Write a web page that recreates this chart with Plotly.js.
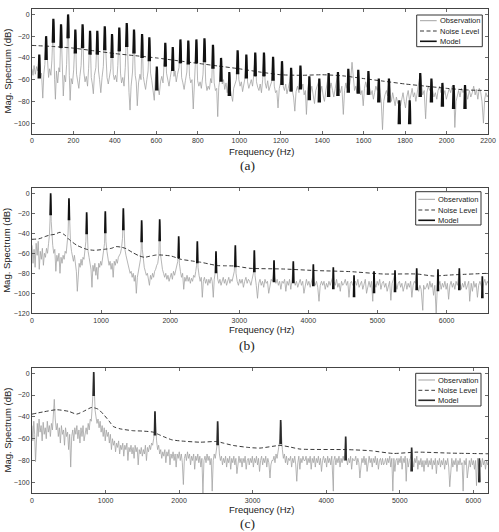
<!DOCTYPE html>
<html><head><meta charset="utf-8">
<script src="https://cdn.plot.ly/plotly-3.0.1.min.js"></script>
<style>html,body{margin:0;padding:0;background:#fff}#chart{width:499px;height:532px}</style>
</head><body><div id="chart"></div>
<script>
// ---------------- Panel (a) ----------------
const peakA_f = [35,68,103,140,174,209,244,280,315,351,386,421,457,492,531,566,602,643,679,716,754,793,832,873,912,952,992,1034,1077,1119,1163,1206,1250,1295,1338,1386,1431,1476,1526,1574,1623,1673,1722,1772,1822,1873,1927,1980,2034,2089];
const peakA_db = [-37,-20,-4,-9,0,-14,-9,-15,-15,-11,-18,-12,-8,-14,-18,-21,-48,-26,-30,-23,-24,-23,-22,-28,-40,-53,-33,-37,-35,-35,-39,-43,-49,-47,-57,-59,-54,-53,-50,-51,-52,-59,-59,-79,-79,-54,-59,-63,-65,-65];
const noiseA_f = [0,100,200,300,400,500,600,700,800,900,1000,1100,1200,1300,1400,1500,1600,1700,1800,1900,2000,2100,2200];
const noiseA_db = [-28.5,-29.5,-31,-33.5,-36,-38,-40,-42.5,-45,-47.5,-50,-53,-55.5,-56,-55.5,-56.5,-59,-61.5,-64,-66,-68,-69.5,-70];
const obsA = [
[0,-50],[5,-56],[10,-47],[16,-55],[22,-48],[28,-52],[35,-38],
[41,-58],[46,-54],[52,-77],[57,-55],[62,-46],[68,-21],
[75,-46],[80,-58],[85,-50],[91,-56],[96,-42],[103,-5],
[109,-60],[113,-78],[118,-52],[124,-63],[130,-49],[134,-53],[140,-10],
[146,-50],[151,-75],[156,-56],[162,-62],[167,-46],[174,-1],
[180,-56],[184,-79],[189,-59],[195,-64],[201,-51],[209,-15],
[215,-55],[220,-60],[226,-68],[231,-57],[237,-47],[244,-10],
[250,-53],[256,-62],[262,-57],[268,-66],[273,-50],[280,-16],
[286,-58],[291,-64],[296,-73],[301,-56],[308,-49],[315,-16],
[321,-52],[326,-60],[332,-72],[338,-58],[344,-48],[351,-12],
[357,-49],[362,-58],[368,-64],[374,-55],[380,-50],[386,-19],
[392,-55],[397,-60],[403,-56],[409,-62],[414,-47],[421,-13],
[427,-54],[432,-63],[438,-58],[444,-66],[450,-49],[457,-9],
[463,-58],[468,-72],[473,-88],[478,-66],[485,-53],[492,-15],
[498,-56],[503,-62],[508,-84],[514,-63],[521,-55],[526,-60],[531,-19],
[537,-57],[542,-63],[548,-69],[554,-60],[560,-52],[566,-22],
[572,-54],[578,-61],[584,-68],[590,-79],[596,-57],[602,-49],
[608,-67],[614,-74],[620,-62],[626,-57],[632,-63],[637,-50],[643,-27],
[649,-54],[655,-60],[661,-66],[667,-58],[673,-51],[679,-31],
[685,-57],[690,-52],[696,-62],[702,-55],[709,-49],[716,-24],
[722,-58],[728,-63],[734,-69],[740,-61],[747,-53],[754,-25],
[760,-57],[766,-63],[772,-60],[778,-87],[784,-62],[788,-56],[793,-24],
[799,-61],[805,-66],[811,-62],[817,-68],[825,-55],[832,-23],
[838,-62],[844,-70],[850,-66],[856,-69],[862,-59],[867,-63],[873,-29],
[879,-63],[885,-70],[891,-68],[896,-94],[901,-67],[906,-60],[912,-41],
[918,-64],[924,-60],[930,-69],[936,-63],[942,-72],[947,-62],[952,-54],
[958,-70],[963,-75],[968,-80],[973,-68],[980,-64],[986,-60],[992,-34],
[998,-60],[1004,-66],[1010,-62],[1016,-71],[1022,-65],[1028,-58],[1034,-38],
[1040,-62],[1046,-68],[1052,-63],[1058,-60],[1064,-66],[1070,-56],[1077,-36],
[1083,-62],[1089,-67],[1095,-70],[1101,-64],[1107,-72],[1113,-60],[1119,-36],
[1125,-63],[1131,-68],[1137,-61],[1143,-70],[1149,-66],[1156,-62],[1163,-40],
[1169,-66],[1175,-72],[1181,-70],[1187,-86],[1193,-68],[1199,-63],[1206,-44],
[1212,-66],[1218,-70],[1224,-64],[1230,-73],[1236,-68],[1243,-62],[1250,-50],
[1256,-70],[1262,-76],[1268,-89],[1274,-71],[1281,-66],[1288,-72],[1295,-48],
[1301,-68],[1307,-64],[1313,-74],[1319,-70],[1324,-92],[1330,-69],[1338,-58],
[1344,-72],[1350,-66],[1357,-74],[1363,-82],[1369,-70],[1377,-64],[1386,-60],
[1392,-72],[1398,-66],[1405,-75],[1411,-80],[1418,-70],[1424,-64],[1431,-55],
[1437,-68],[1443,-63],[1450,-70],[1456,-76],[1463,-68],[1469,-61],[1476,-54],
[1482,-68],[1488,-72],[1495,-66],[1502,-92],[1508,-70],[1514,-63],[1520,-68],[1526,-51],
[1532,-65],[1538,-58],[1544,-44],[1550,-60],[1556,-70],[1562,-66],[1568,-72],[1574,-52],
[1580,-66],[1586,-74],[1592,-70],[1598,-84],[1604,-68],[1610,-62],[1616,-67],[1623,-53],
[1629,-68],[1635,-74],[1641,-70],[1647,-78],[1653,-72],[1659,-66],[1666,-70],[1673,-60],
[1679,-72],[1685,-80],[1691,-106],[1697,-80],[1703,-74],[1710,-70],[1716,-75],[1722,-60],
[1728,-74],[1734,-80],[1740,-72],[1746,-78],[1752,-84],[1758,-76],[1765,-82],[1772,-80],
[1778,-84],[1784,-78],[1790,-72],[1796,-80],[1802,-86],[1808,-76],[1815,-70],[1822,-80],
[1828,-74],[1834,-68],[1840,-76],[1846,-72],[1852,-80],[1858,-70],[1865,-64],[1873,-55],
[1879,-68],[1885,-74],[1892,-70],[1899,-96],[1905,-72],[1912,-66],[1919,-70],[1927,-60],
[1933,-70],[1939,-76],[1946,-72],[1953,-78],[1959,-70],[1966,-66],[1973,-72],[1980,-64],
[1986,-74],[1992,-70],[1999,-78],[2006,-74],[2013,-68],[2020,-72],[2027,-66],[2034,-66],
[2040,-104],[2046,-80],[2052,-74],[2058,-70],[2065,-76],[2072,-68],[2080,-72],[2089,-66],
[2095,-72],[2102,-78],[2110,-70],[2117,-76],[2124,-72],[2131,-66],[2138,-74],[2144,-69],
[2151,-78],[2158,-68],[2165,-72],[2171,-80],[2178,-100],[2184,-78],[2190,-72],[2196,-76],[2200,-74]
];

// ---------------- Panel (b) ----------------
const peakB_f = [270,535,791,1061,1322,1587,1848,2123,2393,2663,2943,3218,3503,3782,4072,4361,4661,4950,5254,5568,5876,6185,6518];
const peakB_db = [0,-5,-19,-18,-15,-27,-26,-43,-48,-58,-52,-57,-67,-68,-71,-74,-82,-78,-77,-75,-76,-75,-83];
const noiseB_f = [0,100,200,260,330,405,480,545,650,791,900,1047,1150,1216,1300,1360,1450,1550,1627,1700,1800,1868,2013,2157,2300,2447,2550,2688,2800,2929,3155,3638,4120,4603,5085,5568,5809,6050,6600];
const noiseB_db = [-46,-45.5,-43,-41.7,-41,-39,-42,-46.7,-52,-56,-57,-56,-55,-53.3,-54,-55.3,-59,-62.5,-64,-63,-61.7,-61.7,-62.7,-66,-67.5,-69,-70.5,-72.3,-72.5,-72.7,-75,-75.7,-77.3,-78.3,-80.7,-80.7,-82.7,-81.7,-80];
const obsB = [
[0,-52],[15,-70],[30,-56],[45,-74],[60,-50],[75,-62],[90,-48],[105,-76],[120,-58],[135,-66],[150,-55],[165,-72],[180,-60],[195,-64],[210,-55],[225,-60],[240,-50],[252,-42],[262,-25],[270,-2],
[278,-28],[288,-45],[300,-52],[315,-60],[330,-56],[345,-78],[360,-62],[375,-68],[390,-60],[405,-80],[420,-64],[435,-70],[450,-62],[465,-66],[480,-58],[495,-60],[510,-50],[522,-40],[535,-7],
[545,-35],[558,-50],[572,-58],[586,-64],[600,-68],[614,-62],[628,-72],[642,-78],[656,-98],[668,-76],[682,-70],[696,-74],[710,-66],[724,-72],[738,-64],[752,-66],[766,-58],[780,-48],[791,-21],
[800,-48],[812,-58],[826,-64],[840,-70],[854,-76],[868,-94],[882,-72],[896,-78],[910,-70],[924,-82],[938,-74],[952,-86],[966,-70],[980,-74],[994,-68],[1008,-72],[1022,-64],[1036,-60],[1050,-50],[1061,-20],
[1070,-48],[1085,-58],[1100,-66],[1115,-72],[1130,-68],[1145,-76],[1160,-70],[1175,-84],[1190,-68],[1205,-72],[1220,-66],[1235,-70],[1250,-64],[1265,-62],[1280,-60],[1295,-55],[1310,-45],[1322,-17],
[1332,-44],[1345,-56],[1360,-62],[1375,-66],[1390,-72],[1405,-76],[1420,-80],[1435,-78],[1450,-84],[1465,-80],[1480,-88],[1495,-82],[1510,-100],[1525,-84],[1540,-78],[1555,-74],[1570,-66],[1580,-56],[1587,-29],
[1597,-56],[1610,-66],[1625,-74],[1640,-78],[1655,-82],[1670,-80],[1685,-88],[1700,-92],[1715,-82],[1730,-86],[1745,-80],[1760,-84],[1775,-78],[1790,-76],[1805,-72],[1820,-70],[1835,-62],[1848,-28],
[1858,-60],[1872,-70],[1888,-76],[1904,-80],[1920,-84],[1936,-80],[1952,-86],[1968,-82],[1984,-88],[2000,-84],[2016,-80],[2032,-86],[2048,-78],[2064,-82],[2080,-76],[2096,-74],[2110,-68],[2123,-45],
[2133,-70],[2148,-78],[2164,-84],[2180,-80],[2196,-96],[2212,-84],[2228,-88],[2244,-82],[2260,-88],[2276,-84],[2292,-90],[2308,-85],[2324,-88],[2340,-82],[2356,-84],[2370,-78],[2382,-72],[2393,-50],
[2403,-74],[2418,-82],[2434,-88],[2450,-84],[2465,-104],[2480,-88],[2496,-84],[2512,-90],[2528,-86],[2544,-92],[2560,-86],[2576,-90],[2592,-84],[2608,-88],[2624,-104],[2638,-86],[2650,-80],[2663,-60],
[2673,-78],[2688,-86],[2704,-90],[2720,-86],[2736,-92],[2752,-88],[2768,-84],[2784,-90],[2800,-86],[2816,-92],[2832,-88],[2848,-84],[2864,-90],[2880,-86],[2896,-88],[2912,-82],[2928,-78],[2943,-54],
[2953,-80],[2970,-88],[2988,-92],[3006,-86],[3024,-90],[3042,-86],[3060,-94],[3078,-88],[3096,-84],[3114,-90],[3132,-86],[3150,-88],[3168,-92],[3186,-86],[3204,-80],[3218,-58],
[3228,-82],[3246,-92],[3264,-105],[3282,-90],[3300,-86],[3318,-92],[3336,-88],[3354,-94],[3372,-86],[3390,-90],[3408,-88],[3426,-100],[3444,-90],[3462,-86],[3480,-88],[3492,-82],[3503,-68],
[3513,-84],[3530,-90],[3548,-86],[3566,-92],[3584,-88],[3602,-96],[3620,-88],[3638,-90],[3656,-86],[3674,-98],[3692,-88],[3710,-92],[3728,-86],[3746,-96],[3764,-86],[3782,-70],
[3792,-86],[3810,-92],[3828,-88],[3846,-94],[3864,-90],[3882,-86],[3900,-92],[3918,-88],[3936,-100],[3954,-90],[3972,-86],[3990,-92],[4008,-88],[4026,-94],[4044,-88],[4060,-84],[4072,-72],
[4082,-88],[4100,-92],[4118,-88],[4136,-94],[4154,-108],[4172,-92],[4190,-88],[4208,-92],[4226,-88],[4244,-96],[4262,-90],[4280,-94],[4298,-88],[4316,-92],[4334,-88],[4350,-84],[4361,-76],
[4371,-88],[4390,-92],[4408,-86],[4426,-94],[4444,-90],[4462,-98],[4480,-88],[4498,-92],[4516,-90],[4534,-86],[4552,-92],[4570,-88],[4588,-104],[4606,-90],[4624,-88],[4642,-92],[4661,-90],
[4680,-88],[4698,-92],[4716,-86],[4734,-94],[4752,-90],[4770,-88],[4788,-96],[4806,-90],[4824,-86],[4842,-100],[4860,-92],[4878,-88],[4896,-94],[4914,-88],[4932,-108],[4950,-80],
[4960,-90],[4978,-94],[4996,-88],[5014,-92],[5032,-86],[5050,-96],[5068,-90],[5086,-88],[5104,-94],[5122,-90],[5140,-98],[5158,-92],[5176,-88],[5194,-107],[5212,-90],[5232,-86],[5254,-80],
[5264,-90],[5282,-96],[5300,-90],[5318,-88],[5336,-94],[5354,-90],[5372,-98],[5390,-92],[5408,-88],[5426,-96],[5444,-90],[5462,-94],[5480,-88],[5498,-104],[5516,-92],[5534,-88],[5550,-90],[5568,-78],
[5578,-92],[5596,-98],[5614,-92],[5632,-96],[5656,-117],[5668,-92],[5686,-96],[5704,-94],[5722,-90],[5740,-96],[5758,-88],[5776,-94],[5794,-90],[5812,-102],[5830,-92],[5850,-120],[5862,-90],[5876,-80],
[5886,-92],[5904,-88],[5922,-96],[5940,-90],[5958,-94],[5976,-88],[5994,-96],[6012,-90],[6030,-106],[6048,-92],[6066,-88],[6084,-94],[6102,-90],[6120,-96],[6138,-88],[6156,-92],[6170,-86],[6185,-78],
[6195,-90],[6213,-96],[6231,-90],[6249,-94],[6267,-88],[6285,-96],[6303,-92],[6321,-88],[6335,-108],[6357,-90],[6375,-98],[6393,-88],[6411,-94],[6429,-90],[6447,-104],[6465,-92],[6483,-88],[6501,-94],[6518,-96],[6536,-90],[6554,-86],[6572,-92],[6590,-88],[6600,-90]
];

// ---------------- Panel (c) ----------------
const peakC_f = [839,1672,2524,3381,4265,5162,6082];
const peakC_db = [1,-35,-44,-43,-58,-68,-78];
const noiseC_f = [0,150,335,500,607,700,811,900,969,1050,1105,1200,1377,1500,1649,1700,1785,1900,2012,2284,2510,2600,2737,2941,3100,3372,3500,3644,4279,4600,4914,5232,5685,6200];
const noiseC_db = [-37.5,-35.5,-33.5,-35,-37.5,-35,-31.4,-33,-37.5,-44,-48.8,-51,-52.7,-53,-54,-55.5,-58,-61,-62,-63.2,-62.6,-64,-66.2,-68,-68.6,-66.2,-67.5,-69.5,-70,-71,-73.5,-72.3,-73.2,-73.8];
const obsC = [
[0,-48],[12,-62],[24,-44],[36,-56],[48,-81],[60,-52],[72,-46],[84,-58],[96,-42],[110,-54],[124,-48],[138,-62],[152,-45],[166,-56],[180,-50],[194,-60],[208,-44],[222,-54],[236,-48],[250,-58],[264,-46],[278,-52],[290,-40],[303,-24],
[316,-42],[330,-52],[344,-46],[358,-58],[372,-50],[386,-64],[400,-48],[414,-56],[428,-52],[442,-66],[456,-50],[470,-58],[484,-54],[498,-70],[512,-56],[526,-86],[540,-58],[554,-52],[568,-62],[582,-50],[596,-56],[610,-48],[624,-60],[638,-52],[652,-64],[666,-50],[680,-58],[694,-48],[708,-62],[722,-54],[736,-50],[750,-56],[764,-46],[778,-52],[792,-42],[806,-44],[820,-30],[830,-18],[839,0],
[848,-22],[858,-34],[870,-40],[884,-46],[898,-42],[912,-50],[926,-44],[940,-54],[954,-48],[968,-58],[982,-50],[996,-62],[1010,-52],[1024,-58],[1038,-54],[1052,-64],[1066,-56],[1080,-70],[1094,-60],[1108,-66],[1122,-62],[1136,-72],[1150,-64],[1164,-68],[1178,-62],[1192,-74],[1206,-66],[1220,-70],[1234,-64],[1248,-76],[1262,-66],[1276,-70],[1290,-64],[1304,-80],[1318,-68],[1332,-72],[1346,-66],[1360,-74],[1374,-68],[1388,-78],[1402,-66],[1416,-72],[1430,-68],[1444,-84],[1458,-70],[1472,-74],[1486,-68],[1500,-76],[1514,-70],[1528,-74],[1542,-66],[1556,-80],[1570,-68],[1584,-72],[1598,-66],[1612,-70],[1626,-64],[1640,-66],[1654,-60],[1664,-54],[1672,-36],
[1682,-56],[1694,-62],[1708,-70],[1722,-66],[1736,-74],[1750,-70],[1764,-78],[1778,-72],[1792,-76],[1806,-70],[1820,-82],[1834,-72],[1848,-76],[1862,-70],[1876,-84],[1890,-74],[1904,-78],[1918,-72],[1932,-80],[1946,-74],[1960,-86],[1974,-74],[1988,-78],[2002,-72],[2016,-80],[2030,-74],[2044,-82],[2058,-102],[2072,-78],[2086,-74],[2100,-80],[2114,-72],[2128,-78],[2142,-74],[2156,-84],[2170,-76],[2184,-80],[2198,-74],[2212,-88],[2226,-76],[2240,-80],[2254,-74],[2268,-82],[2282,-76],[2296,-86],[2310,-78],[2324,-110],[2338,-80],[2352,-76],[2366,-82],[2380,-74],[2394,-80],[2408,-76],[2422,-84],[2436,-78],[2450,-108],[2464,-80],[2478,-74],[2492,-78],[2506,-72],[2516,-66],[2524,-46],
[2534,-66],[2548,-74],[2562,-80],[2576,-76],[2590,-84],[2604,-78],[2618,-82],[2632,-76],[2646,-86],[2660,-78],[2674,-82],[2688,-76],[2702,-88],[2716,-78],[2730,-82],[2744,-76],[2758,-84],[2772,-78],[2786,-92],[2800,-80],[2814,-76],[2828,-82],[2842,-78],[2856,-86],[2870,-78],[2884,-82],[2898,-76],[2912,-88],[2926,-80],[2940,-78],[2954,-84],[2968,-78],[2982,-82],[2996,-76],[3010,-86],[3024,-78],[3038,-82],[3052,-76],[3066,-84],[3080,-78],[3094,-90],[3108,-80],[3122,-76],[3136,-84],[3150,-78],[3164,-82],[3178,-76],[3192,-86],[3206,-78],[3220,-82],[3236,-96],[3248,-84],[3262,-80],[3276,-80],[3290,-76],[3304,-82],[3318,-74],[3332,-78],[3346,-70],[3360,-66],[3372,-60],[3381,-45],
[3392,-62],[3404,-70],[3418,-78],[3432,-74],[3446,-82],[3460,-76],[3474,-84],[3488,-78],[3502,-80],[3516,-76],[3530,-86],[3544,-78],[3558,-82],[3572,-76],[3586,-84],[3600,-99],[3614,-82],[3628,-76],[3642,-88],[3656,-78],[3670,-82],[3684,-76],[3698,-80],[3712,-80],[3726,-76],[3740,-84],[3754,-78],[3768,-82],[3782,-76],[3796,-88],[3810,-78],[3824,-82],[3838,-76],[3852,-86],[3866,-78],[3880,-82],[3894,-76],[3908,-84],[3922,-78],[3936,-90],[3950,-80],[3964,-76],[3978,-82],[3992,-78],[4006,-86],[4020,-76],[4034,-82],[4048,-78],[4062,-84],[4076,-76],[4097,-108],[4104,-80],[4118,-76],[4132,-84],[4146,-78],[4160,-82],[4174,-76],[4188,-86],[4202,-78],[4216,-82],[4230,-76],[4244,-80],[4256,-72],[4265,-60],
[4276,-78],[4290,-84],[4304,-78],[4318,-82],[4332,-76],[4346,-88],[4360,-78],[4374,-80],[4388,-80],[4402,-76],[4416,-84],[4430,-78],[4444,-82],[4458,-96],[4472,-86],[4486,-78],[4500,-82],[4514,-76],[4528,-84],[4542,-78],[4556,-90],[4570,-80],[4584,-76],[4598,-82],[4612,-78],[4626,-86],[4640,-78],[4654,-82],[4668,-76],[4682,-84],[4696,-78],[4710,-88],[4724,-80],[4738,-78],[4752,-84],[4766,-78],[4780,-84],[4794,-82],[4808,-78],[4822,-84],[4836,-78],[4850,-82],[4864,-76],[4878,-86],[4892,-78],[4906,-108],[4920,-78],[4934,-90],[4948,-80],[4962,-78],[4976,-84],[4990,-78],[5004,-82],[5018,-76],[5032,-88],[5046,-78],[5060,-82],[5074,-76],[5088,-99],[5102,-78],[5116,-86],[5130,-80],[5144,-78],[5154,-74],[5162,-70],
[5176,-80],[5190,-86],[5204,-78],[5218,-82],[5232,-76],[5246,-88],[5260,-80],[5274,-84],[5288,-78],[5302,-86],[5316,-80],[5330,-90],[5344,-80],[5358,-84],[5372,-78],[5386,-86],[5400,-80],[5414,-84],[5428,-78],[5442,-88],[5456,-80],[5470,-84],[5484,-78],[5498,-92],[5512,-80],[5526,-84],[5540,-78],[5554,-86],[5568,-80],[5582,-84],[5596,-78],[5610,-88],[5624,-80],[5638,-84],[5652,-78],[5666,-86],[5680,-104],[5694,-84],[5708,-78],[5722,-86],[5736,-80],[5750,-84],[5764,-78],[5778,-90],[5792,-80],[5806,-84],[5820,-78],[5834,-84],[5848,-82],[5862,-108],[5876,-80],[5890,-84],[5904,-78],[5918,-96],[5932,-84],[5946,-80],[5960,-86],[5974,-78],[5988,-84],[6002,-80],[6016,-88],[6030,-80],[6044,-103],[6058,-78],[6070,-84],[6082,-88],[6096,-80],[6110,-86],[6124,-78],[6138,-84],[6152,-80],[6166,-88],[6180,-80],[6194,-84],[6200,-82]
];

const ticksA_x = [0,200,400,600,800,1000,1200,1400,1600,1800,2000,2200];
const ticksBC_x = [0,1000,2000,3000,4000,5000,6000];
const ticksAC_y = [0,-20,-40,-60,-80,-100];
const ticksB_y = [0,-20,-40,-60,-80,-100,-120];
const legendNames = ['Observation','Noise Level','Model'];
const panelLabels = ['(a)','(b)','(c)'];
const xTitle = 'Frequency (Hz)';
const yTitle = 'Mag. Spectrum (dB)';

// ---- lobe profile used to draw each model peak (shape, in Hz / dB offsets) ----
const lobeA = {df:[-3,-2,-1,0,1,2,3], ddb:[-22,-10,-3,0,-3,-10,-22]};
const lobeB = {df:[-7,-3,0,3,7], ddb:[-22,-7,0,-7,-22]};
const lobeC = {df:[-7,-3,0,3,7], ddb:[-22,-7,0,-7,-22]};

function lobes(freqs, levels, lobe){
  const x=[], y=[];
  freqs.forEach((f,i)=>{
    lobe.df.forEach((d,j)=>{ x.push(f+d); y.push(levels[i]+lobe.ddb[j]); });
    x.push(null); y.push(null);
  });
  return {x,y};
}

const W=499, H=532;
const PX = x => x/W, PY = y => 1 - y/H;
const obsCol='#a3a3a3', noiseCol='#222', modelCol='#111';

const panels = [
  {obs:obsA, nf:noiseA_f, nd:noiseA_db, pf:peakA_f, pd:peakA_db, lobe:lobeA, mw:2.2, xr:[0,2200], yr:[-110,5], xt:ticksA_x, yt:ticksAC_y, top:9, bot:134, xtitleY:151, labY:165, leg:{x0:416.7,x1:482.3,y0:15,y1:46.7,rows:[20.7,31,41.3],l0:420,l1:436.7,tx:438.5}, mcol:modelCol},
  {obs:obsB, nf:noiseB_f, nd:noiseB_db, pf:peakB_f, pd:peakB_db, lobe:lobeB, mw:1.7, xr:[0,6600], yr:[-120,5], xt:ticksBC_x, yt:ticksB_y, top:188.3, bot:313.3, xtitleY:329.5, labY:345.5, leg:{x0:415.7,x1:481,y0:191.7,y1:225,rows:[199.3,210,220.3],l0:418.3,l1:435,tx:437.3}, mcol:modelCol},
  {obs:obsC, nf:noiseC_f, nd:noiseC_db, pf:peakC_f, pd:peakC_db, lobe:lobeC, mw:1.7, xr:[0,6200], yr:[-110,5], xt:ticksBC_x, yt:ticksAC_y, top:367.7, bot:493.3, xtitleY:509.5, labY:523.5, leg:{x0:415.7,x1:481,y0:373.3,y1:406,rows:[380,390.3,400.3],l0:418.3,l1:435,tx:437.3}, mcol:'#2a2a2a'}
];

const traces=[], shapes=[], annotations=[];
const layout = {
  width:W, height:H, margin:{l:0,r:0,t:0,b:0}, paper_bgcolor:'#fff', plot_bgcolor:'#fff',
  showlegend:false, font:{family:'Liberation Sans, Arial, sans-serif', size:7, color:'#333'}
};

panels.forEach((p,i)=>{
  const sfx = i===0 ? '' : String(i+1);
  const xa='x'+sfx, ya='y'+sfx;
  traces.push({x:p.obs.map(d=>d[0]), y:p.obs.map(d=>d[1]), xaxis:xa, yaxis:ya, mode:'lines', name:legendNames[0], line:{color:obsCol, width:0.8}});
  traces.push({x:p.nf, y:p.nd, xaxis:xa, yaxis:ya, mode:'lines', name:legendNames[1], line:{color:noiseCol, width:0.9, dash:'4px,2.5px', shape:'spline', smoothing:0.6}});
  const m = lobes(p.pf, p.pd, p.lobe);
  traces.push({x:m.x, y:m.y, xaxis:xa, yaxis:ya, mode:'lines', name:legendNames[2], connectgaps:false, line:{color:p.mcol, width:p.mw}});
  const axBase = {showline:true, linecolor:'#444', linewidth:1, mirror:'ticks', ticks:'inside', ticklen:3, tickwidth:0.8, tickcolor:'#444', showgrid:false, zeroline:false, fixedrange:true, automargin:false, tickfont:{size:7, color:'#333'}};
  layout['xaxis'+sfx] = Object.assign({}, axBase, {domain:[PX(32), PX(488)], anchor:ya, range:p.xr, tickmode:'array', tickvals:p.xt, ticktext:p.xt.map(String)});
  layout['yaxis'+sfx] = Object.assign({}, axBase, {domain:[PY(p.bot), PY(p.top)], anchor:xa, range:p.yr, tickmode:'array', tickvals:p.yt, ticktext:p.yt.map(v=>v===0?'0':'\u2212'+Math.abs(v))});
  annotations.push({xref:'paper', yref:'paper', x:PX(261), y:PY(p.xtitleY), text:xTitle, showarrow:false, xanchor:'center', yanchor:'middle', font:{size:9.5, color:'#222'}, borderpad:0});
  annotations.push({xref:'paper', yref:'paper', x:PX(7), y:PY((p.top+p.bot)/2), text:yTitle, textangle:-90, showarrow:false, xanchor:'center', yanchor:'middle', font:{size:9.5, color:'#222'}, borderpad:0});
  annotations.push({xref:'paper', yref:'paper', x:PX(247), y:PY(p.labY), text:panelLabels[i], showarrow:false, xanchor:'center', yanchor:'middle', font:{family:'Liberation Serif, Times New Roman, serif', size:13.5, color:'#222'}, borderpad:0});
  const L = p.leg;
  shapes.push({type:'rect', xref:'paper', yref:'paper', x0:PX(L.x0), x1:PX(L.x1), y0:PY(L.y1), y1:PY(L.y0), line:{color:'#333', width:1}, fillcolor:'#fff', layer:'above'});
  const sty = [{color:obsCol, width:1}, {color:noiseCol, width:0.9, dash:'4px,2.5px'}, {color:p.mcol, width:1.6}];
  L.rows.forEach((ry,k)=>{
    shapes.push({type:'line', xref:'paper', yref:'paper', x0:PX(L.l0), x1:PX(L.l1), y0:PY(ry), y1:PY(ry), line:sty[k], layer:'above'});
    annotations.push({xref:'paper', yref:'paper', x:PX(L.tx), y:PY(ry), text:legendNames[k], showarrow:false, xanchor:'left', yanchor:'middle', font:{size:7.5, color:'#222'}, borderpad:0});
  });
});
layout.shapes = shapes;
layout.annotations = annotations;

Plotly.newPlot('chart', traces, layout, {displayModeBar:false, staticPlot:true});
</script></body></html>
